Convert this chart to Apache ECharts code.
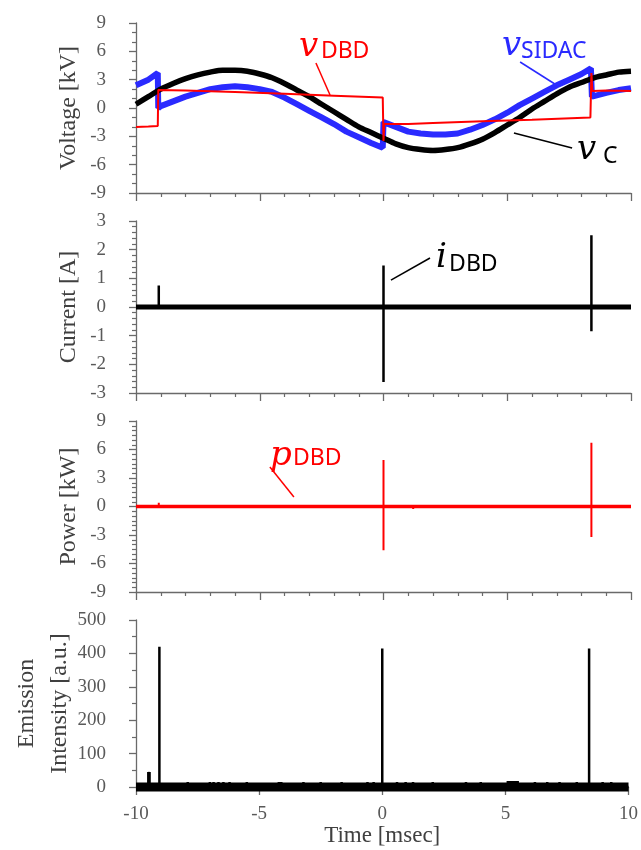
<!DOCTYPE html>
<html><head><meta charset="utf-8">
<script src="https://cdn.jsdelivr.net/npm/echarts/dist/echarts.min.js"></script>
<style>html,body{margin:0;padding:0;background:#fff}#c{width:641px;height:850px}</style>
</head><body><div id="c"></div>
<script>
// ---------- data ----------
// time axis (ms) tick labels
const timeTicks = [-10, -5, 0, 5, 10];

// v_C (capacitor voltage, kV)
const vCTime = [-10,-9.5,-9,-8.5,-8,-7.5,-7,-6.5,-6,-5.5,-5,-4.5,-4,-3.5,-3,-2.5,-2,-1.5,-1,-0.5,0,0.5,1,1.5,2,2.5,3,3.5,4,4.5,5,5.5,6,6.5,7,7.5,8,8.5,9,9.5,10];
const vCVals = [0.4,1.2,2.0,2.6,3.1,3.5,3.8,4.0,4.0,3.9,3.6,3.2,2.6,1.9,1.2,0.4,-0.4,-1.2,-2.0,-2.6,-3.2,-3.8,-4.2,-4.4,-4.5,-4.4,-4.2,-3.8,-3.3,-2.6,-1.8,-1.0,-0.1,0.7,1.5,2.2,2.7,3.2,3.5,3.8,3.9];

// v_SIDAC (kV)
const vSTime = [-10,-9.5,-9.12,-9.1,-9,-8.5,-8,-7.5,-7,-6.5,-6,-5.5,-5,-4.5,-4,-3.5,-3,-2.5,-2,-1.5,-1,-0.5,-0.03,0,0.5,1,1.5,2,2.5,3,3.5,4,4.5,5,5.5,6,6.5,7,7.5,8,8.38,8.42,9,9.5,10];
const vSVals = [2.4,3.0,3.7,0.0,0.2,0.7,1.2,1.6,2.0,2.2,2.3,2.2,2.0,1.7,1.1,0.4,-0.3,-1.0,-1.7,-2.5,-3.1,-3.7,-4.2,-1.5,-2.0,-2.5,-2.7,-2.8,-2.8,-2.7,-2.3,-1.8,-1.2,-0.5,0.3,1.0,1.7,2.4,3.0,3.6,4.2,1.2,1.6,1.9,2.1];

// v_DBD (kV)
const vDTime = [-10,-9.5,-9.12,-9.1,-8,-6,-4,-2,-0.03,0,0.03,1,2,4,6,8.36,8.4,8.44,9,10];
const vDVals = [-2.0,-1.95,-1.9,1.9,1.85,1.7,1.5,1.3,1.1,-3.5,-1.7,-1.7,-1.6,-1.4,-1.25,-1.0,3.7,1.8,1.85,1.8];

// i_DBD (A): baseline + discharge spikes
const iSpikeTime = [-9.08, 0, 8.4];
const iSpikeMax  = [0.75, 1.45, 2.5];
const iSpikeMin  = [0, -2.62, -0.85];

// p_DBD (kW)
const pSpikeTime = [-9.08, 0, 1.2, 8.4];
const pSpikeMax  = [0.4, 4.9, 0, 6.7];
const pSpikeMin  = [0, -4.6, -0.25, -3.2];

// Emission intensity (a.u.)
const eSpikeTime = [-9.5,-9.45,-9.05,-7.9,-7.0,-6.85,-6.65,-6.45,-6.2,-5.5,-4.2,-4.1,-3.2,-2.5,-1.65,-0.6,-0.35,0,0.6,0.95,1.25,2.05,3.4,4.0,5.1,5.2,5.3,5.4,5.5,6.2,6.7,7.2,7.9,8.4,8.95,9.3];
const eSpikeVal  = [45,45,420,15,15,15,15,15,15,15,15,15,15,15,15,15,15,415,15,15,15,15,15,15,18,18,18,18,18,15,15,15,15,415,15,15];

// ---------- build ----------
const pairs = (xs, ys) => xs.map((x, i) => [x, ys[i]]);
function spikeLine(ts, mx, mn) {
  const d = [[-10, 0]];
  ts.forEach((t, i) => { d.push([t, 0], [t, mx[i]], [t, mn[i]], [t, 0]); });
  d.push([10, 0]);
  return d;
}

const serif = '"Liberation Serif", "Times New Roman", serif';
const axisCol = '#6a6a6a';
const labCol = '#595959';
const titleCol = '#404040';

const grids = [
  {left: 136, right: 10, top: 23, height: 170},
  {left: 136, right: 10, top: 221, height: 172},
  {left: 136, right: 10, top: 421, height: 171},
  {left: 136, right: 10, top: 620, height: 167}
];

function xAx(i, last) {
  return {
    type: 'value', gridIndex: i, min: -10, max: 10, interval: 5,
    axisLine: {onZero: false, lineStyle: {color: axisCol, width: 1.3}},
    axisTick: {show: true, inside: false, length: 8, lineStyle: {color: axisCol, width: 1.3}},
    minorTick: {show: true, splitNumber: 5, length: 4, lineStyle: {color: axisCol, width: 1.2}},
    splitLine: {show: false},
    axisLabel: {show: last, fontFamily: serif, fontSize: 19, color: labCol, margin: 18},
    name: last ? 'Time [msec]' : '', nameLocation: 'middle', nameGap: 37,
    nameTextStyle: {fontFamily: serif, fontSize: 23, color: titleCol}
  };
}
function yAx(i, min, max, interval, minorSplit, name, gap) {
  return {
    type: 'value', gridIndex: i, min, max, interval,
    axisLine: {show: true, onZero: false, lineStyle: {color: axisCol, width: 1.3}},
    axisTick: {show: true, inside: false, length: 7, lineStyle: {color: axisCol, width: 1.3}},
    minorTick: {show: true, splitNumber: minorSplit, length: 4, lineStyle: {color: axisCol, width: 1.2}},
    splitLine: {show: false},
    axisLabel: {fontFamily: serif, fontSize: 19, color: labCol, margin: 30},
    name, nameLocation: 'middle', nameGap: gap, nameRotate: 90, nameMoveOverlap: false,
    nameTextStyle: {fontFamily: serif, fontSize: 24, color: titleCol, lineHeight: 33}
  };
}

const lineBase = {type: 'line', showSymbol: false, symbol: 'none', animation: false, clip: false};

const chart = echarts.init(document.getElementById('c'), null, {renderer: 'canvas'});
chart.setOption({
  animation: false,
  backgroundColor: '#fff',
  grid: grids,
  xAxis: [xAx(0, false), xAx(1, false), xAx(2, false), xAx(3, true)],
  yAxis: [
    yAx(0, -9, 9, 3, 3, 'Voltage [kV]', 51),
    yAx(1, -3, 3, 1, 5, 'Current [A]', 51),
    yAx(2, -9, 9, 3, 6, 'Power [kW]', 51),
    yAx(3, 0, 500, 100, 2, 'Emission\nIntensity [a.u.]', 60)
  ],
  series: [
    Object.assign({}, lineBase, {name: 'vSIDAC', xAxisIndex: 0, yAxisIndex: 0, data: pairs(vSTime, vSVals), lineStyle: {color: '#2a2aff', width: 6}}),
    Object.assign({}, lineBase, {name: 'vC', xAxisIndex: 0, yAxisIndex: 0, data: pairs(vCTime, vCVals), smooth: 0.3, lineStyle: {color: '#000', width: 5.5}}),
    Object.assign({}, lineBase, {name: 'vDBD', xAxisIndex: 0, yAxisIndex: 0, data: pairs(vDTime, vDVals), lineStyle: {color: '#ff0000', width: 2}}),

    Object.assign({}, lineBase, {name: 'iBase', xAxisIndex: 1, yAxisIndex: 1, data: [[-10, 0], [10, 0]], lineStyle: {color: '#000', width: 5}}),
    Object.assign({}, lineBase, {name: 'iDBD', xAxisIndex: 1, yAxisIndex: 1, data: spikeLine(iSpikeTime, iSpikeMax, iSpikeMin), lineStyle: {color: '#000', width: 2.5}}),

    Object.assign({}, lineBase, {name: 'pBase', xAxisIndex: 2, yAxisIndex: 2, data: [[-10, 0], [10, 0]], lineStyle: {color: '#ff0000', width: 3.5}}),
    Object.assign({}, lineBase, {name: 'pDBD', xAxisIndex: 2, yAxisIndex: 2, data: spikeLine(pSpikeTime, pSpikeMax, pSpikeMin), lineStyle: {color: '#ff0000', width: 2}}),

    Object.assign({}, lineBase, {name: 'eBase', xAxisIndex: 3, yAxisIndex: 3, data: [[-10, 0], [10, 0]], lineStyle: {color: '#000', width: 9}}),
    Object.assign({}, lineBase, {name: 'em', xAxisIndex: 3, yAxisIndex: 3, data: spikeLine(eSpikeTime, eSpikeVal, eSpikeVal.map(() => 0)), lineStyle: {color: '#000', width: 2.5}})
  ]
});

// ---------- annotations (anchored in data coordinates) ----------
const annText = [
  // [grid, x, y, text, font, color]
  [0, -3.41, 6.46, 'v', 'italic 34px "DejaVu Serif", serif', '#ff0000'],
  [0, -2.53, 6.00, 'DBD', '23px "Noto Sans", sans-serif', '#ff0000'],
  [0, 4.79, 6.56, 'v', 'italic 34px "DejaVu Serif", serif', '#2a2aff'],
  [0, 5.56, 6.00, 'SIDAC', '23px "Noto Sans", sans-serif', '#2a2aff'],
  [0, 7.82, -4.45, 'v', 'italic 34px "DejaVu Serif", serif', '#000'],
  [0, 8.87, -5.08, 'C', '23px "Noto Sans", sans-serif', '#000'],
  [1, 2.12, 1.71, 'i', 'italic 34px "DejaVu Serif", serif', '#000'],
  [1, 2.65, 1.47, 'DBD', '23px "Noto Sans", sans-serif', '#000'],
  [2, -4.59, 5.32, 'p', 'italic 34px "DejaVu Serif", serif', '#ff0000'],
  [2, -3.66, 5.05, 'DBD', '23px "Noto Sans", sans-serif', '#ff0000']
];
const annLines = [
  // [grid, x1, y1, x2, y2, color]
  [0, -2.73, 4.76, -2.16, 1.38, '#ff0000'],
  [0, 5.52, 4.87, 7.05, 2.33, '#2a2aff'],
  [0, 5.27, -2.65, 7.62, -4.24, '#000'],
  [1, 0.30, 0.94, 1.88, 1.71, '#000'],
  [2, -4.59, 4.16, -3.62, 1.0, '#ff0000']
];
const g = [];
annText.forEach(a => {
  const p = chart.convertToPixel({gridIndex: a[0]}, [a[1], a[2]]);
  g.push({type: 'text', x: p[0], y: p[1], z: 100, style: {text: a[3], font: a[4], fill: a[5], textAlign: 'left', textVerticalAlign: 'middle'}});
});
annLines.forEach(a => {
  const p1 = chart.convertToPixel({gridIndex: a[0]}, [a[1], a[2]]);
  const p2 = chart.convertToPixel({gridIndex: a[0]}, [a[3], a[4]]);
  g.push({type: 'line', z: 100, shape: {x1: p1[0], y1: p1[1], x2: p2[0], y2: p2[1]}, style: {stroke: a[5], lineWidth: 1.5}});
});
chart.setOption({graphic: g});
</script>
</body></html>
